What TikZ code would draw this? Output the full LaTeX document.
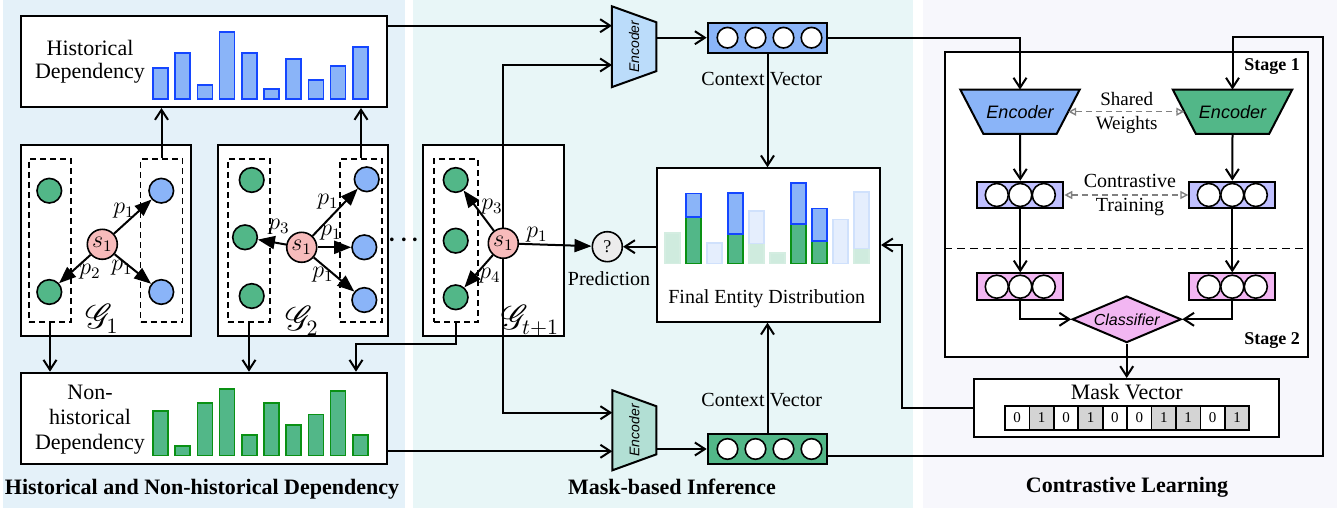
\documentclass[tikz,border=0pt]{standalone}
\usepackage{fontspec}
\setmainfont{Liberation Serif}
\setsansfont{Liberation Sans}
\usepackage{mathrsfs}
\usetikzlibrary{arrows.meta,shapes.geometric,calc}

\definecolor{bgHist}{RGB}{228,241,249}
\definecolor{bgMask}{RGB}{232,246,247}
\definecolor{bgCon}{RGB}{247,247,252}
\definecolor{barBlue}{RGB}{138,180,248}
\definecolor{lineBlue}{RGB}{20,70,255}
\definecolor{barGreen}{RGB}{82,183,136}
\definecolor{lineGreen}{RGB}{10,145,20}
\definecolor{nodePink}{RGB}{247,187,187}
\definecolor{encLight}{RGB}{187,220,250}
\definecolor{encMint}{RGB}{178,223,212}
\definecolor{vecLilac}{RGB}{192,192,255}
\definecolor{vecPink}{RGB}{242,182,242}
\definecolor{cellGray}{RGB}{212,212,212}
\definecolor{predGray}{RGB}{236,236,236}

\tikzset{
  panelbox/.style={draw, line width=1pt, fill=white, inner sep=0pt},
  dbox/.style={draw, line width=0.8pt, dash pattern=on 3pt off 2pt, inner sep=0pt, minimum width=21pt, minimum height=81.5pt},
  arr/.style={-{Straight Barb[length=5pt,width=6.5pt]}, line width=1pt},
  gedge/.style={-{Triangle[length=8.5pt,width=6.5pt]}, line width=1pt},
  ent/.style={circle, draw, line width=0.8pt, minimum size=12.3pt, inner sep=0pt},
  gn/.style={ent, fill=barGreen},
  bn/.style={ent, fill=barBlue},
  sn/.style={ent, fill=nodePink, minimum size=15pt, font=\fontsize{12}{12}\selectfont},
  plab/.style={font=\fontsize{12}{12}\selectfont, inner sep=0pt},
  glab/.style={font=\fontsize{16}{16}\selectfont, inner sep=0pt},
  hbar/.style={draw=lineBlue, fill=barBlue, line width=0.8pt},
  nbar/.style={draw=lineGreen, fill=barGreen, line width=0.8pt},
  fgbar/.style={draw=barGreen!25, fill=barGreen!28, line width=0.8pt},
  fbbar/.style={draw=barBlue!40, fill=barBlue!22, line width=0.8pt},
  vecbox/.style={draw, line width=1pt, inner sep=0pt, minimum width=59.8pt, minimum height=15pt},
  hole/.style={circle, draw, fill=white, line width=0.8pt, minimum size=10.3pt, inner sep=0pt},
  svec/.style={draw, line width=1pt, inner sep=0pt, minimum width=43pt, minimum height=13.3pt},
  shole/.style={circle, draw, fill=white, line width=0.8pt, minimum size=11.5pt, inner sep=0pt},
  encframe/.style={inner sep=0pt},
  enclab/.style={font=\sffamily\itshape\fontsize{9}{9}\selectfont, inner sep=0pt},
  sharedarr/.style={{Triangle[open,length=4pt,width=4pt]}-{Triangle[open,length=4pt,width=4pt]}, gray, line width=0.7pt, dash pattern=on 3pt off 2pt},
  cell/.style={draw, line width=0.8pt, inner sep=0pt, minimum width=12.2pt, minimum height=12.2pt, font=\fontsize{7.5}{7.5}\selectfont},
  ttl/.style={font=\bfseries\fontsize{11}{13}\selectfont}
}

\begin{document}
\begin{tikzpicture}[x=0.5pt,y=-0.5pt,font=\fontsize{10}{12}\selectfont]
\useasboundingbox (0,0) rectangle (1344,508);
% panels
\fill[bgHist] (3,0) rectangle (405,508);
\fill[bgMask] (413,0) rectangle (913,508);
\fill[bgCon] (923,0) rectangle (1337,508);

% historical dependency
\node[panelbox, minimum width=183pt, minimum height=45.5pt] (hist) at (204,61.5) {};
\node[align=center, font=\fontsize{11}{11.5}\selectfont] (histTxt) at (90,62) {Historical\\Dependency};
\foreach \i/\t in {0/68,1/53,2/85,3/32,4/53,5/89,6/59,7/80,8/66,9/47}
  \draw[hbar] (153+22.2*\i,\t) rectangle ++(15,99-\t);

% non-historical dependency
\node[panelbox, minimum width=183pt, minimum height=45.8pt] (nonh) at (204,418.5) {};
\node[align=center, font=\fontsize{11}{12.5}\selectfont] (nonhTxt) at (90,420) {Non-\\historical\\Dependency};
\foreach \i/\t in {0/410.7,1/445.7,2/402.7,3/388.7,4/435,5/402.7,6/424.7,7/414.3,8/390.7,9/435}
  \draw[nbar] (153+22.2*\i,\t) rectangle ++(15,455.3-\t);

% snapshot G_1
\node[panelbox, minimum width=85pt, minimum height=95.5pt] (G1) at (106,240.5) {};
\node[dbox] (G1L) at (50,240.5) {};
\node[dbox] (G1R) at (161.5,240.5) {};
\node[gn] (g1a) at (49.3,190.7) {};
\node[gn] (g1b) at (49.3,292) {};
\node[bn] (b1a) at (161.3,190.7) {};
\node[bn] (b1b) at (161.3,292) {};
\node[sn] (s1a) at (102.3,244.3) {$s_1$};
\draw[gedge] (s1a) -- (b1a);
\draw[gedge] (s1a) -- (g1b);
\draw[gedge] (s1a) -- (b1b);
\node[plab] (p1a) at (124,211) {$p_1$};
\node[plab] (p1b) at (90,272) {$p_2$};
\node[plab] (p1c) at (122,268) {$p_1$};
\node[glab] (lG1) at (102,319) {$\mathscr{G}_1$};

% snapshot G_2
\node[panelbox, minimum width=85pt, minimum height=95.5pt] (G2) at (303,240.5) {};
\node[dbox] (G2L) at (249,240.5) {};
\node[dbox] (G2R) at (361,240.5) {};
\node[gn] (g2a) at (251.7,180) {};
\node[gn] (g2b) at (245,237.3) {};
\node[gn] (g2c) at (251.7,296) {};
\node[bn] (b2a) at (366.7,179.3) {};
\node[bn] (b2b) at (364.3,247.3) {};
\node[bn] (b2c) at (364.3,300) {};
\node[sn] (s1b) at (301.7,247.3) {$s_1$};
\draw[gedge] (s1b) -- (b2a);
\draw[gedge] (s1b) -- (g2b);
\draw[gedge] (s1b) -- (b2b);
\draw[gedge] (s1b) -- (b2c);
\node[plab] (p2a) at (328,202) {$p_1$};
\node[plab] (p2b) at (279,227) {$p_3$};
\node[plab] (p2c) at (331,233) {$p_1$};
\node[plab] (p2d) at (323,275) {$p_1$};
\node[glab] (lG2) at (302,321) {$\mathscr{G}_2$};

\node[font=\fontsize{18}{18}\selectfont, inner sep=0pt] (dots) at (404,241) {$\mathord{\cdot}\mkern1mu\mathord{\cdot}\mkern1mu\mathord{\cdot}$};

% snapshot G_{t+1}
\node[panelbox, minimum width=70.5pt, minimum height=95.5pt] (Gt) at (493.5,240.5) {};
\node[dbox, minimum width=22pt] (GtL) at (456,240.5) {};
\node[gn] (gta) at (455.7,180) {};
\node[gn] (gtb) at (455.7,240.7) {};
\node[gn] (gtc) at (455.7,297.3) {};
\node[sn] (sT) at (503.3,243.3) {$s_1$};
\node[ent, fill=predGray, minimum size=15pt, font=\fontsize{9}{9}\selectfont] (pred) at (607.3,246.7) {?};
\node (predTxt) at (609,278.3) {Prediction};
\draw[gedge] (sT) -- (gta);
\draw[gedge] (sT) -- (gtc);
\draw[gedge] (sT) -- (pred);
\node[plab] (pta) at (492,207) {$p_3$};
\node[plab] (ptb) at (490,276) {$p_4$};
\node[plab] (ptc) at (537,235) {$p_1$};
\node[glab] (lGt) at (530,321) {$\mathscr{G}_{t+1}$};

% graphs -> dependency boxes
\draw[arr] (G1R.north) -- (G1R.north |- hist.south);
\draw[arr] (G2R.north) -- (G2R.north |- hist.south);
\draw[arr] (G1L.south) -- (G1L.south |- nonh.north);
\draw[arr] (G2L.south) -- (G2L.south |- nonh.north);
\coordinate (nIn) at ($(nonh.north east)+(-32,0)$);
\draw[arr] (GtL.south) -- ++(0,21) -| (nIn);

% encoders of the inference part
\node[encframe, minimum width=21.85pt, minimum height=40pt] (encT) at (634.2,46.7) {};
\draw[line width=1pt, fill=encLight] (encT.north west) -- ($(encT.north east)+(0,16)$) -- ($(encT.south east)+(0,-16)$) -- (encT.south west) -- cycle;
\node[enclab, rotate=90, font=\sffamily\itshape\fontsize{7}{7}\selectfont] (encTtxt) at (encT) {Encoder};
\node[encframe, minimum width=21.65pt, minimum height=39.65pt] (encD) at (634.3,430.3) {};
\draw[line width=1pt, fill=encMint] (encD.north west) -- ($(encD.north east)+(0,16)$) -- ($(encD.south east)+(0,-16)$) -- (encD.south west) -- cycle;
\node[enclab, rotate=90, font=\sffamily\itshape\fontsize{7}{7}\selectfont] (encDtxt) at (encD) {Encoder};

% context vectors
\node[vecbox, fill=barBlue] (cvT) at (767.5,37.7) {};
\node[vecbox, fill=barGreen] (cvB) at (767.5,449) {};
\foreach \k in {0,...,3} {
  \node[hole] (cvTh\k) at (727.5+28*\k,37.7) {};
  \node[hole] (cvBh\k) at (727.5+28*\k,449) {};
}
\node (cvTtxt) at (761.7,78.7) {Context Vector};
\node (cvBtxt) at (761.7,400) {Context Vector};

% final entity distribution
\node[panelbox, minimum width=111.7pt, minimum height=76.7pt] (final) at (768.3,245) {};
\foreach \i/\t in {0/232.7,4/243.3,5/252.7,9/248.3}
  \draw[fgbar] (665+21*\i,\t) rectangle ++(15,263.3-\t);
\foreach \i/\t/\u in {2/242.7/263.3,4/210.7/243.3,8/219.3/263.3,9/191.7/248.3}
  \draw[fbbar] (665+21*\i,\t) rectangle (680+21*\i,\u);
\foreach \i/\t in {1/216.7,3/234,6/224,7/241}
  \draw[nbar] (665+21*\i,\t) rectangle ++(15,263.3-\t);
\foreach \i/\t/\u in {1/193.3/216.7,3/192.7/234,6/182.7/224,7/208.3/241}
  \draw[hbar] (665+21*\i,\t) rectangle (680+21*\i,\u);
\node (finalTxt) at (766.7,298.3) {Final Entity Distribution};

% inference connectors
\coordinate (hOut) at ($(hist.north east)+(0,10.7)$);
\draw[arr] (hOut) -- (hOut -| encT.west);
\coordinate (eTin) at ($(encT.west)+(0,18.3)$);
\draw[arr] (sT.north) |- (eTin);
\coordinate (eDin) at ($(encD.west)+(0,-17.6)$);
\draw[arr] (sT.south) |- (eDin);
\coordinate (nOut) at ($(nonh.south east)+(0,-14)$);
\draw[arr] (nOut) -- (nOut -| encD.west);
\draw[arr] (encT.east |- cvT.west) -- (cvT.west);
\draw[arr] (encD.east |- cvB.west) -- (cvB.west);
\draw[arr] (cvT.south) -- (cvT.south |- final.north);
\draw[arr] (cvB.north) -- (cvB.north |- final.south);
\draw[arr] (final.west |- pred) -- (pred);

% contrastive learning
\node[panelbox, minimum width=181.7pt, minimum height=152.2pt] (stage) at (1126.7,204.5) {};
\draw[line width=0.8pt, dash pattern=on 4pt off 2.5pt] ($(stage.west)+(0,43.8)$) -- ($(stage.east)+(0,43.8)$);
\node[font=\bfseries\fontsize{9}{9}\selectfont] (st1) at (1272,67) {Stage 1};
\node[font=\bfseries\fontsize{9}{9}\selectfont] (st2) at (1272,341) {Stage 2};

\node[encframe, minimum width=59.3pt, minimum height=21.7pt] (encB) at (1020,111.7) {};
\draw[line width=1pt, fill=barBlue] (encB.north west) -- (encB.north east) -- ($(encB.south east)+(-23,0)$) -- ($(encB.south west)+(23,0)$) -- cycle;
\node[enclab] (encBtxt) at (encB) {Encoder};
\node[encframe, minimum width=59.3pt, minimum height=21.7pt] (encG) at (1232.5,111.7) {};
\draw[line width=1pt, fill=barGreen] (encG.north west) -- (encG.north east) -- ($(encG.south east)+(-23,0)$) -- ($(encG.south west)+(23,0)$) -- cycle;
\node[enclab] (encGtxt) at (encG) {Encoder};
\draw[sharedarr] ($(encB.east)+(-11.5,0)$) -- ($(encG.west)+(11.5,0)$);
\node[align=center, font=\fontsize{9.5}{12}\selectfont] (swTxt) at (1126.7,112.5) {Shared\\Weights};

\node[svec, fill=vecLilac] (vB1) at (1020.3,195) {};
\node[svec, fill=vecLilac] (vG1) at (1232.3,195) {};
\node[svec, fill=vecPink] (vB2) at (1020.3,286.7) {};
\node[svec, fill=vecPink] (vG2) at (1232.3,286.7) {};
\foreach \v in {vB1,vG1,vB2,vG2}
  \foreach \k in {-1,0,1}
    \node[shole] (\v h\k) at ($(\v)+(23.5*\k,0)$) {};
\draw[sharedarr] (vB1.east) -- (vG1.west);
\node[align=center, font=\fontsize{10}{12}\selectfont] (ctTxt) at (1130,195.5) {Contrastive\\Training};

\node[diamond, draw, line width=1pt, fill=vecPink, aspect=2.33, inner sep=0pt, minimum width=54.5pt, minimum height=23.3pt, font=\sffamily\itshape\fontsize{8}{8}\selectfont] (cls) at (1126.7,319.3) {Classifier};

\draw[arr] (encB.south) -- (vB1.north);
\draw[arr] (encG.south) -- (vG1.north);
\draw[arr] (vB1.south) -- (vB2.north);
\draw[arr] (vG1.south) -- (vG2.north);
\draw[arr] (vB2.south) |- (cls.west);
\draw[arr] (vG2.south) |- (cls.east);

% mask vector
\node[panelbox, minimum width=152.7pt, minimum height=29.2pt] (mask) at (1126.7,408.2) {};
\node[font=\fontsize{11}{11}\selectfont] (maskTxt) at (1126.7,392.5) {Mask Vector};
\foreach \v/\c [count=\k from 0] in {0/white,1/cellGray,0/white,1/cellGray,0/white,0/white,1/cellGray,1/cellGray,0/white,1/cellGray}
  \node[cell, fill=\c] (m\k) at (1017.2+24.43*\k,417.9) {\v};
\draw[arr] (cls.south) -- (mask.north);

% long connectors
\draw[arr] (cvT.east) -| (encB.north);
\coordinate (cOut) at ($(cvB.east)+(0,7)$);
\coordinate (loopTop) at (1323,36.7);
\draw[arr] (cOut) -| (loopTop) -| (encG.north);
\draw[arr] (mask.west) -- ++(-71.3,0) |- (final.east);

% titles
\node[ttl] (t1) at (202,489) {Historical and Non-historical Dependency};
\node[ttl] (t2) at (672,487) {Mask-based Inference};
\node[ttl] (t3) at (1127,487) {Contrastive Learning};
\end{tikzpicture}
\end{document}
